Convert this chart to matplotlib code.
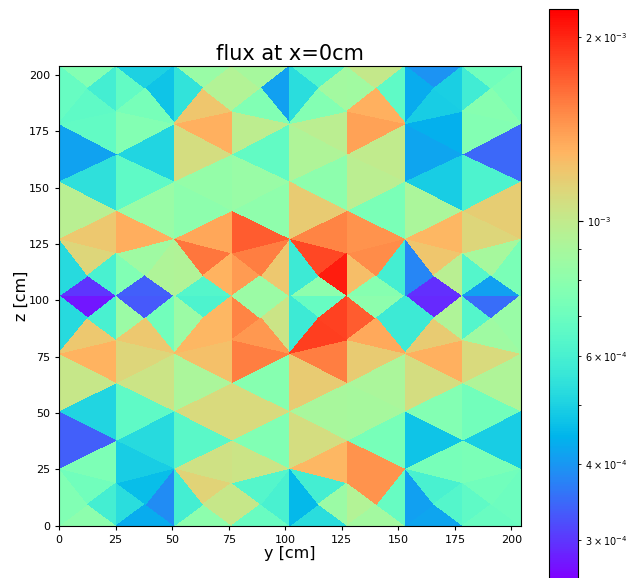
import matplotlib
matplotlib.use("Agg")
import matplotlib.pyplot as plt
from matplotlib.colors import LogNorm

# flux in units of 1e-4, one list per 51 cm wide column
# order: bottom block, lower strip, block below z=102, block above z=102, upper strip, top block
flux_col1 = [8.0, 7.6, 7.1, 5.9, 5.3, 4.3, 3.85, 4.6,
             7.5, 4.9, 3.35, 5.2, 5.1, 6.6, 10.2, 10.4, 13.0, 11.2,
             2.75, 5.2, 12.0, 6.0, 8.5, 3.3, 7.2, 12.0,
             3.0, 5.2, 11.2, 6.0, 7.6, 3.35, 9.2, 8.6,
             12.0, 13.3, 9.6, 8.4, 5.4, 6.6, 4.15, 5.1, 6.7, 7.7,
             7.7, 6.8, 6.6, 5.9, 6.7, 5.0, 4.7, 7.3]
flux_col2 = [8.0, 5.9, 11.4, 10.2, 10.2, 6.9, 6.0, 6.3,
             10.6, 10.4, 6.5, 7.6, 11.0, 11.0, 9.1, 7.8, 12.4, 15.5,
             6.1, 8.5, 12.8, 12.8, 15.3, 8.5, 10.4, 14.3,
             6.3, 9.3, 16.0, 13.0, 14.2, 8.5, 12.0, 15.5,
             13.6, 17.2, 8.0, 8.1, 8.3, 8.4, 10.8, 6.7, 13.1, 9.8,
             8.4, 5.5, 12.1, 9.4, 9.4, 8.9, 4.1, 7.6]
flux_col3 = [5.3, 4.5, 5.9, 8.5, 9.4, 8.8, 6.8, 14.5,
             12.8, 14.5, 10.8, 7.3, 9.0, 8.9, 11.8, 9.1, 15.6, 11.8,
             6.8, 5.7, 18.8, 18.5, 17.2, 8.0, 5.7, 13.5,
             8.0, 5.7, 18.3, 20.5, 12.5, 7.8, 5.9, 14.9,
             15.3, 14.5, 11.8, 7.4, 8.0, 9.7, 9.2, 10.0, 9.7, 13.8,
             6.3, 5.3, 7.7, 8.8, 8.7, 10.1, 6.6, 13.1]
flux_col4 = [4.2, 4.1, 6.0, 6.3, 6.6, 6.9, 7.0, 7.1,
             7.3, 7.4, 4.7, 4.9, 7.7, 7.2, 10.8, 9.2, 13.1, 11.0,
             2.9, 5.7, 11.8, 9.2, 6.3, 3.5, 8.4, 8.6,
             2.95, 3.8, 12.1, 9.6, 6.3, 4.1, 7.4, 8.9,
             12.8, 11.2, 9.1, 11.7, 4.9, 6.1, 4.2, 3.45, 4.35, 7.7,
             3.95, 4.3, 4.9, 4.95, 5.8, 7.1, 7.4, 7.8]

col_edges = [0, 51, 102, 153]
col_width = 51
lower_even = [25.5, 51, 76.5]
lower_odd = [19, 38, 63.5, 82.5]
upper_even = [127.5, 153, 178.5]
upper_odd = [121, 140, 165, 184]
# (outer z, z on even column, z on odd column, z of the two inner points)
blocks_low = [(0, 25.5, 19, 9.5), (102, 76.5, 82.5, 92)]
blocks_high = [(102, 127.5, 121, 111), (204, 178.5, 184, 194)]

xs, zs, tris = [], [], []
index = {}


def pt(x, z):
    if (x, z) not in index:
        index[(x, z)] = len(xs)
        xs.append(x)
        zs.append(z)
    return index[(x, z)]


def block(x0, zo, ze, zm, zq):
    w = col_width
    A, B, C = pt(x0, zo), pt(x0 + w / 2, zo), pt(x0 + w, zo)
    D, E, F = pt(x0, ze), pt(x0 + w / 2, zm), pt(x0 + w, ze)
    P, Q = pt(x0 + w / 4, zq), pt(x0 + 3 * w / 4, zq)
    for t in [(A, B, P), (A, P, D), (D, P, E), (P, B, E),
              (B, Q, E), (B, C, Q), (Q, C, F), (E, Q, F)]:
        tris.append(t)


def strip(x0, even, odd):
    w = col_width
    xl, xm, xr = x0, x0 + w / 2, x0 + w
    for i in range(3):
        for xe in (xl, xr):
            tris.append((pt(xe, even[i]), pt(xm, odd[i]), pt(xm, odd[i + 1])))
        if i < 2:
            for xe in (xl, xr):
                tris.append((pt(xe, even[i]), pt(xm, odd[i + 1]), pt(xe, even[i + 1])))


for x0 in col_edges:
    block(x0, *blocks_low[0])
    strip(x0, lower_even, lower_odd)
    block(x0, *blocks_low[1])
    block(x0, *blocks_high[0])
    strip(x0, upper_even, upper_odd)
    block(x0, *blocks_high[1])

flux = [v * 1e-4 for v in flux_col1 + flux_col2 + flux_col3 + flux_col4]

W, H = 629, 578
fig = plt.figure(figsize=(W / 100, H / 100), dpi=100)
ax = fig.add_axes([59 / W, 1 - 525.5 / H, 461.5 / W, 459.5 / H])
tpc = ax.tripcolor(xs, zs, tris, facecolors=flux, cmap="rainbow",
                   norm=LogNorm(vmin=2.58e-4, vmax=2.226e-3))
ax.set_xlim(0, 204)
ax.set_ylim(0, 204)
ax.tick_params(labelsize=8, length=3)
ax.set_title("flux at x=0cm", fontsize=15, pad=4)
ax.set_xlabel("y [cm]", fontsize=11.5, labelpad=1)
ax.set_ylabel("z [cm]", fontsize=11.5, labelpad=0)

cax = fig.add_axes([549 / W, 1 - 580 / H, 28.5 / W, 571 / H])
cb = fig.colorbar(tpc, cax=cax)
cb.ax.tick_params(which="both", labelsize=7)

fig.savefig("out.png", dpi=100)
